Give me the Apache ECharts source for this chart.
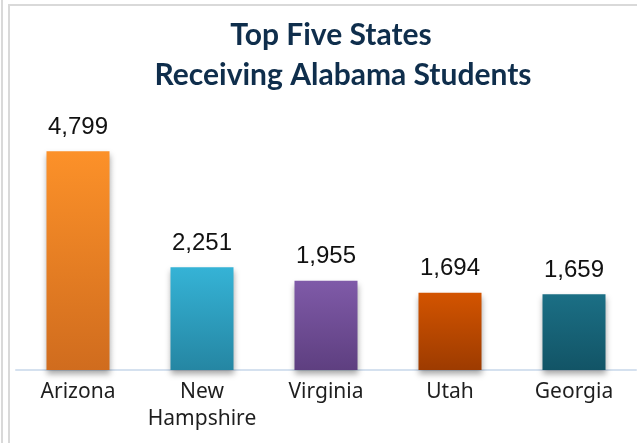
<!DOCTYPE html>
<html>
<head>
<meta charset="utf-8">
<script src="https://cdn.jsdelivr.net/npm/echarts@6/dist/echarts.min.js"></script>
<style>
  html, body { margin: 0; padding: 0; background: #fff; }
  #chart { width: 637px; height: 443px; }
</style>
</head>
<body>
<div id="chart"></div>
<script>
// data
var states = ['Arizona', 'New\nHampshire', 'Virginia', 'Utah', 'Georgia']
var students = [4799, 2251, 1955, 1694, 1659]
var titleLines = ['Top Five States', 'Receiving Alabama Students']
// top / bottom colour of each bar's gradient
var topColors = ['#fc9129', '#35b3d6', '#7f5aa8', '#d35400', '#1b6f85']
var bottomColors = ['#d06c1e', '#2586a3', '#5e3f80', '#9d3b00', '#125466']

var myChart = echarts.init(document.getElementById('chart'))

var barData = students.map(function (v, i) {
    return {
        value: v,
        itemStyle: {
            color: new echarts.graphic.LinearGradient(0, 0, 0, 1, [
                { offset: 0, color: topColors[i] },
                { offset: 1, color: bottomColors[i] }
            ])
        }
    }
})

var titleStyle = {
    fontFamily: 'Lato',
    fontWeight: 'bold',
    fontSize: 30,
    lineHeight: 40,
    color: '#0f2e4c'
}

var option = {
    backgroundColor: '#fff',
    animation: false,
    title: [
        { text: titleLines[0], left: 326, textAlign: 'center', top: 10, textStyle: titleStyle },
        { text: titleLines[1], left: 338, textAlign: 'center', top: 50, textStyle: titleStyle }
    ],
    grid: { left: 16, right: 1, top: 142, bottom: 73 },
    xAxis: {
        type: 'category',
        data: states,
        axisLine: { lineStyle: { color: '#d5e1ef', width: 2 } },
        axisTick: { show: false },
        axisLabel: {
            fontFamily: 'Noto Sans',
            fontSize: 21,
            color: '#1e1e1e',
            lineHeight: 27,
            margin: 9,
            interval: 0
        }
    },
    yAxis: {
        type: 'value',
        min: 0,
        max: 5000,
        show: false
    },
    series: [{
        type: 'bar',
        data: barData,
        barWidth: 63,
        itemStyle: {
            shadowColor: 'rgba(0,0,0,0.35)',
            shadowBlur: 6,
            shadowOffsetY: 4
        },
        label: {
            show: true,
            position: 'top',
            distance: 12,
            fontFamily: 'Liberation Sans',
            fontSize: 24,
            color: '#111',
            formatter: function (p) {
                return p.value.toLocaleString('en-US')
            }
        }
    }],
    graphic: [
        { type: 'rect', shape: { x: 1, y: 0, width: 2, height: 443 }, style: { fill: '#d9d9d9' }, silent: true },
        { type: 'rect', shape: { x: 8, y: 4, width: 2, height: 439 }, style: { fill: '#d9d9d9' }, silent: true },
        { type: 'rect', shape: { x: 8, y: 4, width: 629, height: 2 }, style: { fill: '#d9d9d9' }, silent: true }
    ]
}
myChart.setOption(option)

window.onresize = () => {
    myChart.resize()
}
</script>
</body>
</html>
